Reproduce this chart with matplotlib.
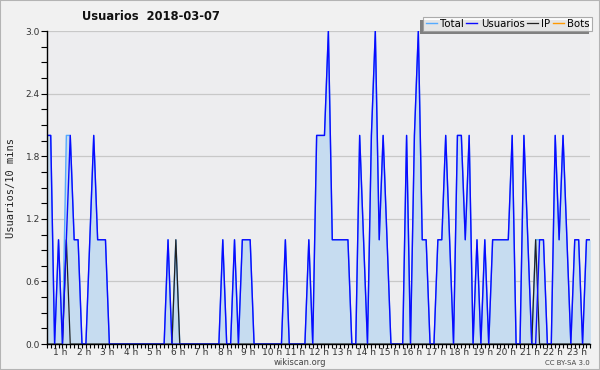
import matplotlib
matplotlib.use("Agg")
import matplotlib.pyplot as plt
from matplotlib.patches import Rectangle
import numpy as np

# users per 10 min slot, first slot shown at ~0:25
usuarios = [2, 2, 0, 1, 0, 1,
            2, 1, 1, 0, 0, 1,
            2, 1, 1, 1, 0, 0,
            0, 0, 0, 0, 0, 0,
            0, 0, 0, 0, 0, 0,
            0, 1, 0, 0, 0, 0,
            0, 0, 0, 0, 0, 0,
            0, 0, 0, 1, 0, 0,
            1, 0, 1, 1, 1, 0,
            0, 0, 0, 0, 0, 0,
            0, 1, 0, 0, 0, 0,
            0, 1, 0, 2, 2, 2,
            3, 1, 1, 1, 1, 1,
            0, 0, 2, 1, 0, 2,
            3, 1, 2, 1, 0, 0,
            0, 0, 2, 0, 2, 3,
            1, 1, 0, 0, 1, 1,
            2, 1, 0, 2, 2, 1,
            2, 0, 1, 0, 1, 0,
            1, 1, 1, 1, 1, 2,
            0, 0, 2, 1, 0, 0,
            1, 1, 0, 0, 2, 1,
            2, 1, 0, 1, 1, 0,
            1, 1]
ip_slots = [5, 33, 125]
hours = list(range(1, 24))
yticks = [0.0, 0.6, 1.2, 1.8, 2.4, 3.0]

n = len(usuarios)
x = np.arange(n)
usu = np.array(usuarios, dtype=float)
ip = np.zeros(n)
ip[ip_slots] = 1
bots = np.zeros(n)
total = usu + ip

fig = plt.figure(figsize=(6, 3.7), dpi=100)
fig.patch.set_facecolor("#f1f1f1")
fig.patches.append(Rectangle((0, 0), 1, 1, transform=fig.transFigure,
                             fill=False, edgecolor="#b4b4b4", lw=1.5))

ax = fig.add_axes([0.078, 0.070, 0.906, 0.846])
ax.set_facecolor("#ededef")

l_bot, = ax.plot(x, bots, color="#ff9900", lw=1, zorder=1, label="Bots")
ax.fill_between(x, 0, total, color="#c6dcf0", lw=0, zorder=2)
l_tot, = ax.plot(x, total, color="#55aaff", lw=1, zorder=3, label="Total")
l_ip, = ax.plot(x, ip, color="#222222", lw=0.9, zorder=3.5, label="IP")
l_usu, = ax.plot(x, usu, color="#0a0aff", lw=1.0, zorder=4, label="Usuarios")

ax.set_xlim(0, n - 1)
ax.set_ylim(0, 3.0)
ax.set_yticks(yticks)
ax.set_yticklabels(["%.1f" % v for v in yticks])
ax.set_yticks(np.arange(0, 3.01, 0.15), minor=True)
ax.yaxis.grid(True, color="#c8c8c8", lw=0.9)
ax.set_axisbelow(True)

ax.set_xticks(np.array(hours) * 6 - 2.5)
ax.set_xticklabels(["%d h" % h for h in hours])
ax.set_xticks(x, minor=True)
ax.tick_params(axis="x", which="major", length=0, pad=3, labelsize=6.5, colors="#333333")
ax.tick_params(axis="x", which="minor", length=3, width=0.8, color="black")
ax.tick_params(axis="y", which="both", length=4, width=0.8, color="black")
ax.tick_params(axis="y", which="major", labelsize=6.5, labelcolor="#333333", pad=1)
for s in ["top", "right"]:
    ax.spines[s].set_visible(False)
for s in ["left", "bottom"]:
    ax.spines[s].set_linewidth(1.0)
    ax.spines[s].set_zorder(5)

ax.set_ylabel("Usuarios/10 mins", family="DejaVu Sans Mono", fontsize=7.5,
              color="#222222", labelpad=7)

fig.text(0.252, 0.955, "Usuarios  2018-03-07", ha="center", va="center",
         fontsize=8.3, fontweight="bold", color="#111111")
fig.text(0.5, 0.02, "wikiscan.org", ha="center", va="center",
         fontsize=6, color="#444444")
fig.text(0.983, 0.02, "CC BY-SA 3.0", ha="right", va="center",
         fontsize=5, color="#444444")

leg = fig.legend([l_tot, l_usu, l_ip, l_bot], ["Total", "Usuarios", "IP", "Bots"],
                 ncol=4, loc="upper right", bbox_to_anchor=(0.987, 0.955),
                 fontsize=7.3, handlelength=1.1, handletextpad=0.35,
                 columnspacing=0.2, borderpad=0.22, frameon=True, fancybox=False,
                 borderaxespad=0)
leg.get_frame().set_edgecolor("#999999")
leg.get_frame().set_linewidth(0.8)
leg.set_zorder(10)

fig.canvas.draw()
bb = leg.get_window_extent()
fig.patches.append(Rectangle((bb.x0 - 3, bb.y0 - 3), bb.width, bb.height,
                             transform=None, facecolor="#808080",
                             edgecolor="none", zorder=9))

fig.savefig("out.png", dpi=100, facecolor=fig.get_facecolor())
